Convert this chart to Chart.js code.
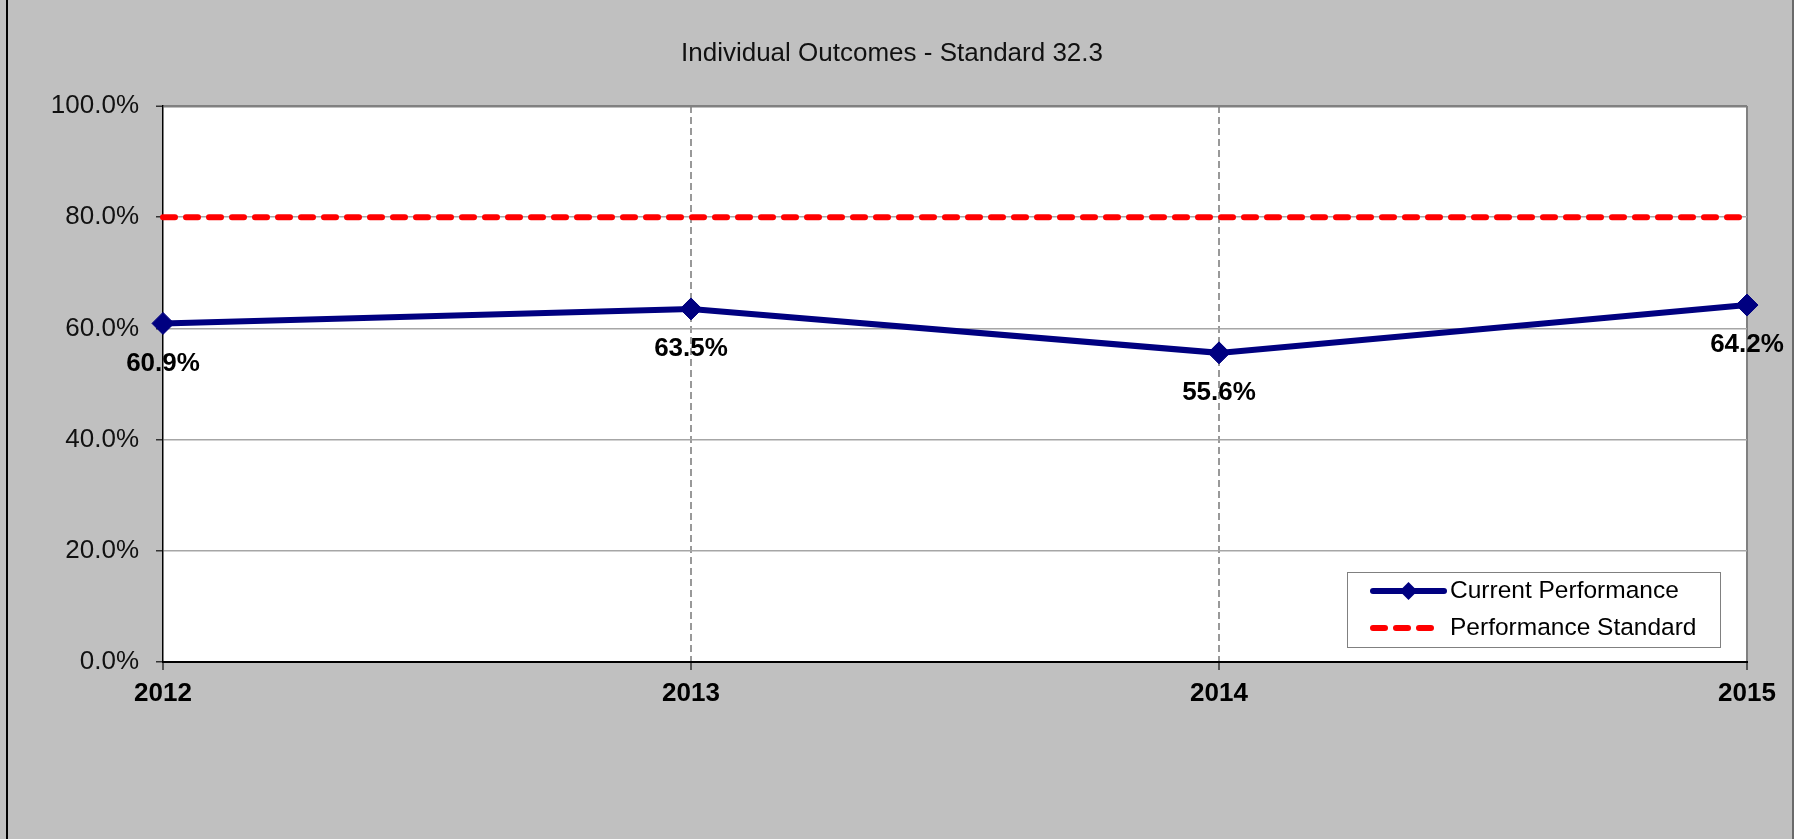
<!DOCTYPE html>
<html>
<head>
<meta charset="utf-8">
<script src="https://cdn.jsdelivr.net/npm/chart.js@4/dist/chart.umd.min.js"></script>
<style>
  html, body { margin: 0; padding: 0; background: #c0c0c0; }
  canvas { display: block; background: #c0c0c0; }
</style>
</head>
<body>
<canvas id="outcomesChart" width="1794" height="839"></canvas>
<script>
document.addEventListener("DOMContentLoaded", function () {
    const years = ['2012', '2013', '2014', '2015'];
    const currentPerformance = [60.9, 63.5, 55.6, 64.2];
    const performanceStandard = [80, 80, 80, 80];
    const yTicks = [0, 20, 40, 60, 80, 100];

    const chartTitle = 'Individual Outcomes - Standard 32.3';
    const fontFamily = '"Liberation Sans", Arial, Helvetica, sans-serif';
    const navy = '#000080';
    const red = '#ff0000';

    // White plot area on the grey chart background
    const plotBackground = {
        id: 'plotBackground',
        beforeDraw(chart) {
            const a = chart.chartArea;
            const ctx = chart.ctx;
            ctx.save();
            ctx.fillStyle = '#fff';
            ctx.fillRect(a.left, a.top, a.right - a.left, a.bottom - a.top);
            ctx.restore();
        }
    };

    const titlePlugin = {
        id: 'excelTitle',
        afterDraw(chart) {
            const ctx = chart.ctx;
            ctx.save();
            ctx.font = '26px ' + fontFamily;
            ctx.fillStyle = '#111';
            ctx.textAlign = 'center';
            ctx.textBaseline = 'middle';
            ctx.fillText(chartTitle, 892, 54);
            ctx.restore();
        }
    };

    // Value labels under each point of the first series
    const valueLabels = {
        id: 'valueLabels',
        afterDatasetsDraw(chart) {
            const ctx = chart.ctx;
            const meta = chart.getDatasetMeta(0);
            const values = chart.data.datasets[0].data;
            ctx.save();
            ctx.font = 'bold 26px ' + fontFamily;
            ctx.fillStyle = '#000';
            ctx.textAlign = 'center';
            ctx.textBaseline = 'middle';
            meta.data.forEach(function (pt, i) {
                ctx.fillText(values[i].toFixed(1) + '%', pt.x, pt.y + 40);
            });
            ctx.restore();
        }
    };

    // Boxed legend inside the plot, line sample plus marker
    const boxLegend = {
        id: 'boxLegend',
        afterDraw(chart) {
            const ctx = chart.ctx;
            const area = chart.chartArea;
            const w = 373, h = 75;
            const x = area.right - 27 - w;
            const y = area.bottom - 15 - h;
            ctx.save();
            ctx.fillStyle = '#fff';
            ctx.fillRect(x, y, w, h);
            ctx.strokeStyle = '#808080';
            ctx.lineWidth = 1;
            ctx.strokeRect(x + 0.5, y + 0.5, w, h);

            chart.data.datasets.forEach(function (ds, i) {
                const cy = y + 19 + i * 37;
                const x0 = x + 26, x1 = x + 97;
                ctx.save();
                ctx.strokeStyle = ds.borderColor;
                ctx.lineWidth = ds.borderWidth;
                ctx.lineCap = 'round';
                ctx.setLineDash(ds.borderDash || []);
                ctx.beginPath();
                ctx.moveTo(x0, cy);
                ctx.lineTo(ds.borderDash ? x1 - 8 : x1, cy);
                ctx.stroke();
                ctx.restore();
                if (ds.pointRadius > 0) {
                    const r = 9;
                    const mx = (x0 + x1) / 2;
                    ctx.fillStyle = ds.pointBackgroundColor;
                    ctx.beginPath();
                    ctx.moveTo(mx, cy - r);
                    ctx.lineTo(mx + r, cy);
                    ctx.lineTo(mx, cy + r);
                    ctx.lineTo(mx - r, cy);
                    ctx.closePath();
                    ctx.fill();
                }
                ctx.font = '24.5px ' + fontFamily;
                ctx.fillStyle = '#000';
                ctx.textAlign = 'left';
                ctx.textBaseline = 'middle';
                ctx.fillText(ds.label, x + 103, cy);
            });
            ctx.restore();
        }
    };

    // Outer frame of the chart object
    const frame = {
        id: 'frame',
        afterDraw(chart) {
            const ctx = chart.ctx;
            ctx.save();
            ctx.fillStyle = '#000';
            ctx.fillRect(6, 0, 2, chart.height);
            ctx.fillStyle = '#6a6a6a';
            ctx.fillRect(1792, 0, 2, chart.height);
            ctx.restore();
        }
    };

    const ctx = document.getElementById('outcomesChart').getContext('2d');

    new Chart(ctx, {
        type: 'line',
        data: {
            labels: years,
            datasets: [{
                label: 'Current Performance',
                data: currentPerformance,
                borderColor: navy,
                backgroundColor: navy,
                borderWidth: 6,
                tension: 0,
                pointStyle: 'rectRot',
                pointRadius: 11,
                pointHoverRadius: 11,
                pointBackgroundColor: navy,
                pointBorderColor: navy,
                pointBorderWidth: 1,
                fill: false
            }, {
                label: 'Performance Standard',
                data: performanceStandard,
                borderColor: red,
                backgroundColor: red,
                borderWidth: 6,
                borderDash: [12, 11],
                borderCapStyle: 'round',
                pointRadius: 0,
                pointHoverRadius: 0,
                fill: false
            }]
        },
        options: {
            responsive: false,
            animation: false,
            layout: {
                padding: { left: 0, top: 106, right: 47, bottom: 0 }
            },
            plugins: {
                legend: { display: false },
                title: { display: false },
                tooltip: { enabled: false }
            },
            scales: {
                x: {
                    type: 'category',
                    offset: false,
                    afterFit: function (scale) { scale.height = 177; },
                    grid: {
                        color: function (c) {
                            if (c.index === 0) return 'rgba(0,0,0,0)';
                            if (c.index === years.length - 1) return '#808080';
                            return '#999999';
                        },
                        lineWidth: 2,
                        tickColor: '#333',
                        tickLength: 8,
                        tickWidth: 1.5
                    },
                    border: {
                        color: '#000',
                        width: 2,
                        dash: function (c) {
                            return (c.index > 0 && c.index < years.length - 1) ? [7, 4] : [];
                        }
                    },
                    ticks: {
                        color: '#000',
                        padding: 8,
                        maxRotation: 0,
                        font: { family: fontFamily, size: 26, weight: 'bold' }
                    }
                },
                y: {
                    min: yTicks[0],
                    max: yTicks[yTicks.length - 1],
                    afterFit: function (scale) { scale.width = 163; },
                    afterBuildTicks: function (scale) {
                        scale.ticks = yTicks.map(function (v) { return { value: v }; });
                    },
                    grid: {
                        color: function (c) {
                            if (!c.tick) return '#a6a6a6';
                            if (c.tick.value === 100) return '#808080';
                            if (c.tick.value === 0) return 'rgba(0,0,0,0)';
                            return '#a6a6a6';
                        },
                        lineWidth: function (c) {
                            return c.tick && c.tick.value === 100 ? 2.5 : 1.5;
                        },
                        tickColor: '#333',
                        tickLength: 7,
                        tickWidth: 1.5
                    },
                    border: { color: '#000', width: 1.5 },
                    ticks: {
                        color: '#111',
                        padding: 17,
                        font: { family: fontFamily, size: 26 },
                        callback: function (v) { return Number(v).toFixed(1) + '%'; }
                    }
                }
            }
        },
        plugins: [plotBackground, titlePlugin, valueLabels, boxLegend, frame]
    });
});
</script>
</body>
</html>
